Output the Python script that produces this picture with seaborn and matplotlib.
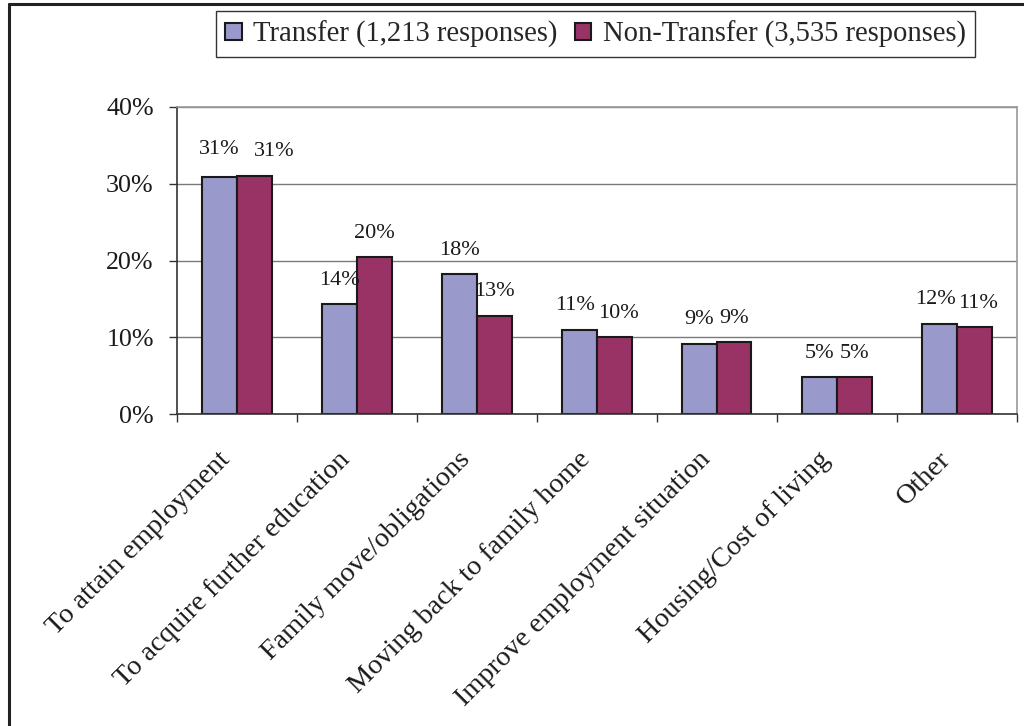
import matplotlib
matplotlib.use('Agg')
import matplotlib.pyplot as plt
import seaborn as sns
import pandas as pd
from matplotlib.lines import Line2D
from matplotlib.ticker import FixedLocator
from matplotlib.transforms import ScaledTranslation

categories = ["To attain employment", "To acquire further education",
              "Family move/obligations", "Moving back to family home",
              "Improve employment situation", "Housing/Cost of living", "Other"]
series_names = ["Transfer (1,213 responses)", "Non-Transfer (3,535 responses)"]
transfer = [30.9, 14.3, 18.2, 11.0, 9.2, 4.8, 11.8]
non_transfer = [31.0, 20.4, 12.8, 10.0, 9.4, 4.8, 11.3]
y_ticks = [0, 10, 20, 30, 40]
colors = ["#9999CC", "#993366"]

sns.set_style('white')
plt.rcParams['font.family'] = ['Liberation Serif', 'DejaVu Serif']

df = pd.DataFrame({
    'Reason': categories * 2,
    'Group': [series_names[0]] * len(categories) + [series_names[1]] * len(categories),
    'Pct': transfer + non_transfer,
})

W, H = 1024, 726
fig = plt.figure(figsize=(W / 100, H / 100), dpi=100)
ax = fig.add_axes([176.7 / W, 1 - 414.3 / H, 840 / W, (414.3 - 106.7) / H])

sns.barplot(data=df, x='Reason', y='Pct', hue='Group', order=categories,
            hue_order=series_names, palette=colors, width=0.58, gap=0,
            edgecolor='#1a1a1a', linewidth=1.5, saturation=1, errorbar=None, ax=ax)

# data labels
LABEL_DY = 14
label_texts = []
for cont, vals in zip(ax.containers, [transfer, non_transfer]):
    row = []
    for patch, v in zip(cont.patches, vals):
        t = ax.annotate(f"{round(v)}%", (patch.get_x() + patch.get_width() / 2, patch.get_height()),
                        xytext=(0, LABEL_DY), textcoords='offset points', ha='center', va='baseline',
                        fontsize=16, color='#1a1a1a')
        row.append((t, v))
    label_texts.append(row)

ax.set_xlim(-0.5, len(categories) - 0.5)
ax.set_ylim(0, 40)
ax.set_yticks(y_ticks)
ax.set_yticklabels([f"{t}%" for t in y_ticks])
ax.set_xlabel('')
ax.set_ylabel('')

ax.set_xticks(range(len(categories)))
ax.set_xticklabels(categories, rotation=45, ha='right', rotation_mode='anchor', va='center')
ax.xaxis.set_minor_locator(FixedLocator([i - 0.5 for i in range(len(categories) + 1)]))
ax.tick_params(axis='x', which='major', length=0, pad=30, labelsize=20.3, labelcolor='#1a1a1a')
ax.tick_params(axis='x', which='minor', bottom=True, length=6, width=1, color='#333333', direction='out')
ax.tick_params(axis='y', which='major', left=True, length=6, width=1, color='#333333',
               direction='out', pad=10.5, labelsize=18.7, labelcolor='#1a1a1a')
shift = ScaledTranslation(-10 / 100, 0, fig.dpi_scale_trans)
for lab in ax.get_xticklabels():
    lab.set_transform(lab.get_transform() + shift)

ax.yaxis.grid(True, color='#7a7a7a', linewidth=1)
ax.xaxis.grid(False)
ax.set_axisbelow(True)
for s in ['left', 'bottom']:
    ax.spines[s].set_color('#333333')
    ax.spines[s].set_linewidth(1.2)
for s in ['top', 'right']:
    ax.spines[s].set_color('#9a9a9a')
    ax.spines[s].set_linewidth(1.2)

handles, labels = ax.get_legend_handles_labels()
if ax.get_legend() is not None:
    ax.get_legend().remove()
for h in handles:
    h.set_edgecolor('#1a1a1a')
    h.set_linewidth(1.5)
leg = fig.legend(handles, labels, loc='center', bbox_to_anchor=(595.5 / W, 1 - 34.3 / H),
                 ncol=2, fontsize=20.6, frameon=True, fancybox=False, edgecolor='#333333',
                 framealpha=1, handlelength=0.58, handleheight=0.58, handletextpad=0.4,
                 columnspacing=0.6, borderpad=0.32)
leg.get_frame().set_linewidth(1.0)

# resolve colliding data labels
fig.canvas.draw()
renderer = fig.canvas.get_renderer()
px2pt = 72 / fig.dpi
for (tl, vl), (tr, vr) in zip(label_texts[0], label_texts[1]):
    bl = tl.get_window_extent(renderer)
    br = tr.get_window_extent(renderer)
    overlap = bl.x1 - br.x0
    if min(bl.y1, br.y1) <= max(bl.y0, br.y0) or overlap <= -1:
        continue
    if abs(vl - vr) <= 0.3:
        # equal-height pair: move the right-hand label clearly aside
        tr.set_position(((overlap + 14) * px2pt, LABEL_DY))
        tl.set_position((0, LABEL_DY + 2))
    else:
        d = (overlap / 2 + 1.5) * px2pt
        tl.set_position((-d, LABEL_DY))
        tr.set_position((d, LABEL_DY))

# outer frame (top and left edges)
fig.add_artist(Line2D([8.5 / W, 8.5 / W], [0, 1 - 4.3 / H], transform=fig.transFigure,
                      color='#222222', linewidth=2.2))
fig.add_artist(Line2D([8.5 / W, 1], [1 - 4.3 / H, 1 - 4.3 / H], transform=fig.transFigure,
                      color='#222222', linewidth=2.2))

fig.savefig('out.png', dpi=100)
